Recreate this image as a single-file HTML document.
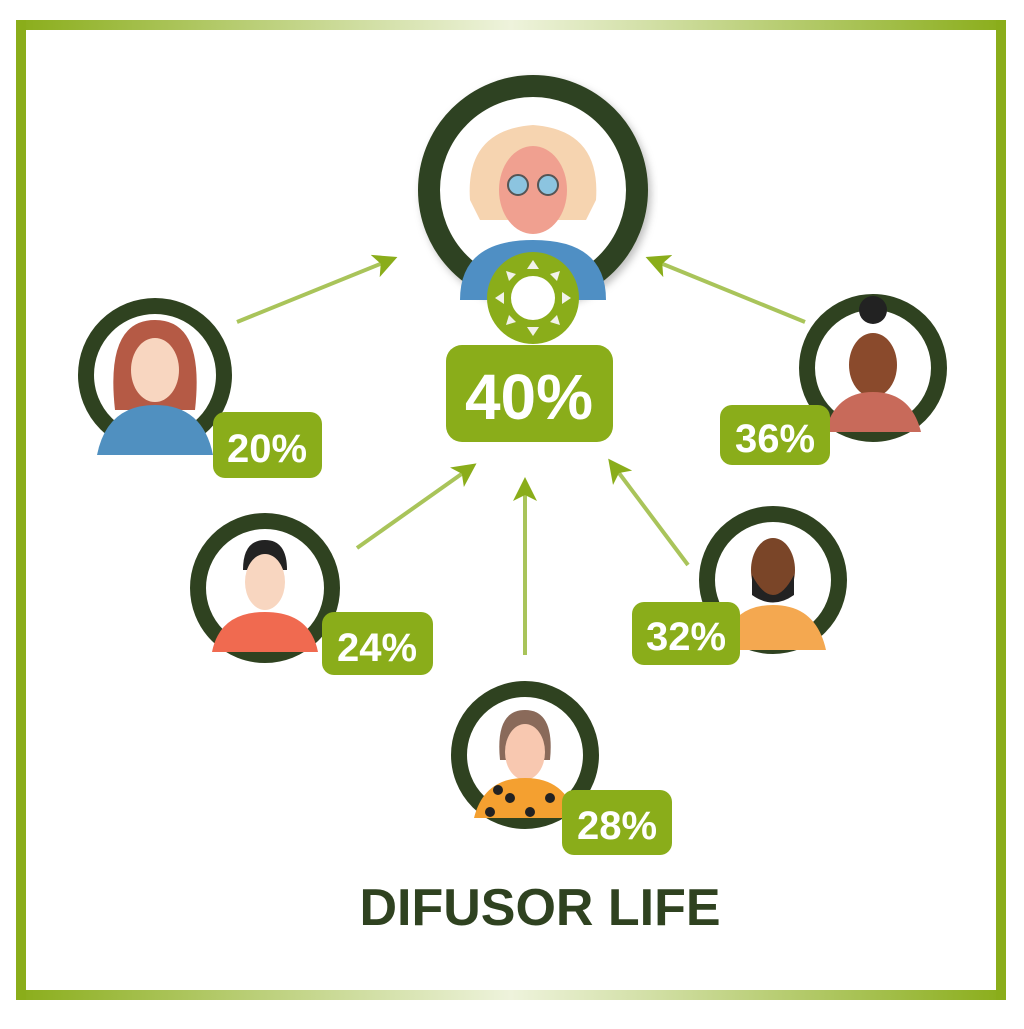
<!DOCTYPE html>
<html><head><style>
body{margin:0;width:1024px;height:1024px;background:#fff;overflow:hidden;font-family:"Liberation Sans",sans-serif}
</style></head><body>
<svg width="1024" height="1024" viewBox="0 0 1024 1024">
<defs>
<linearGradient id="bh" x1="0" x2="1"><stop offset="0" stop-color="#8aad1a"/><stop offset=".5" stop-color="#eef3dc"/><stop offset="1" stop-color="#8aad1a"/></linearGradient>
<filter id="sh"><feDropShadow dx="3" dy="4" stdDeviation="4" flood-opacity=".25"/></filter>
<marker id="ar" markerWidth="6" markerHeight="6" refX="4" refY="3" orient="auto"><path d="M0,0 L6,3 L0,6 L1.5,3z" fill="#8aad1a"/></marker>
</defs>
<rect x="16" y="20" width="990" height="10" fill="url(#bh)"/>
<rect x="16" y="990" width="990" height="10" fill="url(#bh)"/>
<rect x="16" y="20" width="10" height="980" fill="#8aad1a"/>
<rect x="996" y="20" width="10" height="980" fill="#8aad1a"/>

<g stroke-width="4" fill="none" marker-end="url(#ar)" stroke="#a9c45a">
<line x1="237" y1="322" x2="390" y2="260"/>
<line x1="805" y1="322" x2="653" y2="260"/>
<line x1="357" y1="548" x2="470" y2="468"/>
<line x1="525" y1="655" x2="525" y2="485"/>
<line x1="688" y1="565" x2="613" y2="465"/>
</g>

<g filter="url(#sh)"><circle cx="533" cy="190" r="104" fill="#fff" stroke="#2f4220" stroke-width="22"/></g>
<path d="M470,200 q-5,-70 63,-75 q68,5 63,75 l-10,20 l-106,0z" fill="#f6d4b0"/>
<ellipse cx="533" cy="190" rx="34" ry="44" fill="#f0a090"/>
<circle cx="518" cy="185" r="10" fill="#8cc4e0" stroke="#555" stroke-width="2"/>
<circle cx="548" cy="185" r="10" fill="#8cc4e0" stroke="#555" stroke-width="2"/>
<path d="M460,300 q0,-60 73,-60 q73,0 73,60z" fill="#4f8fc4"/>
<circle cx="533" cy="298" r="46" fill="#8aad1a"/>
<g fill="#f2f2ea">
<path d="M533,260 l-6,9 h12z"/><path d="M533,336 l-6,-9 h12z"/>
<path d="M495,298 l9,-6 v12z"/><path d="M571,298 l-9,-6 v12z"/>
<path d="M506,271 l3,10 l7,-7z"/><path d="M560,271 l-3,10 l-7,-7z"/>
<path d="M506,325 l3,-10 l7,7z"/><path d="M560,325 l-3,-10 l-7,7z"/>
</g>
<circle cx="533" cy="298" r="22" fill="#fff"/>
<rect x="446" y="345" width="167" height="97" rx="16" fill="#8aad1a"/>
<text x="529" y="419" font-size="64" font-weight="bold" fill="#fff" text-anchor="middle">40%</text>

<g>
<circle cx="155" cy="375" r="69" fill="#fff" stroke="#2f4220" stroke-width="16"/>
<path d="M115,410 q-10,-90 40,-90 q50,0 40,90z" fill="#b55a45"/>
<ellipse cx="155" cy="370" rx="24" ry="32" fill="#f8d6c0"/>
<path d="M97,455 q10,-50 58,-50 q48,0 58,50z" fill="#5090c0"/>
<rect x="213" y="412" width="109" height="66" rx="12" fill="#8aad1a"/>
<text x="267" y="462" font-size="40" font-weight="bold" fill="#fff" text-anchor="middle">20%</text>
</g>
<g>
<circle cx="873" cy="368" r="66" fill="#fff" stroke="#2f4220" stroke-width="16"/>
<circle cx="873" cy="310" r="14" fill="#222"/>
<ellipse cx="873" cy="365" rx="24" ry="32" fill="#8a4a2c"/>
<path d="M825,432 q10,-40 48,-40 q38,0 48,40z" fill="#c86a5a"/>
<rect x="720" y="405" width="110" height="60" rx="12" fill="#8aad1a"/>
<text x="775" y="452" font-size="40" font-weight="bold" fill="#fff" text-anchor="middle">36%</text>
</g>
<g>
<circle cx="265" cy="588" r="67" fill="#fff" stroke="#2f4220" stroke-width="16"/>
<path d="M243,570 q0,-30 22,-30 q22,0 22,30z" fill="#222"/>
<ellipse cx="265" cy="582" rx="20" ry="28" fill="#f8d6c0"/>
<path d="M212,652 q8,-40 53,-40 q45,0 53,40z" fill="#f06a50"/>
<rect x="322" y="612" width="111" height="63" rx="12" fill="#8aad1a"/>
<text x="377" y="661" font-size="40" font-weight="bold" fill="#fff" text-anchor="middle">24%</text>
</g>
<g>
<circle cx="773" cy="580" r="66" fill="#fff" stroke="#2f4220" stroke-width="16"/>
<ellipse cx="773" cy="570" rx="22" ry="32" fill="#7a4528"/>
<path d="M752,575 q21,40 42,0 v20 q-21,15 -42,0z" fill="#222"/>
<path d="M720,650 q10,-45 53,-45 q43,0 53,45z" fill="#f4a850"/>
<rect x="632" y="602" width="108" height="63" rx="12" fill="#8aad1a"/>
<text x="686" y="650" font-size="40" font-weight="bold" fill="#fff" text-anchor="middle">32%</text>
</g>
<g>
<circle cx="525" cy="755" r="66" fill="#fff" stroke="#2f4220" stroke-width="16"/>
<path d="M500,760 q-5,-50 25,-50 q30,0 25,50z" fill="#8a6a5a"/>
<ellipse cx="525" cy="752" rx="20" ry="28" fill="#f8c8b0"/>
<path d="M474,818 q10,-40 51,-40 q41,0 51,40z" fill="#f4a030"/>
<g fill="#222"><circle cx="490" cy="812" r="5"/><circle cx="510" cy="798" r="5"/><circle cx="530" cy="812" r="5"/><circle cx="550" cy="798" r="5"/><circle cx="498" cy="790" r="5"/></g>
<rect x="562" y="790" width="110" height="65" rx="12" fill="#8aad1a"/>
<text x="617" y="839" font-size="40" font-weight="bold" fill="#fff" text-anchor="middle">28%</text>
</g>

<text x="540" y="925" font-size="52" font-weight="bold" fill="#2f4220" text-anchor="middle">DIFUSOR LIFE</text>
</svg>
</body></html>
